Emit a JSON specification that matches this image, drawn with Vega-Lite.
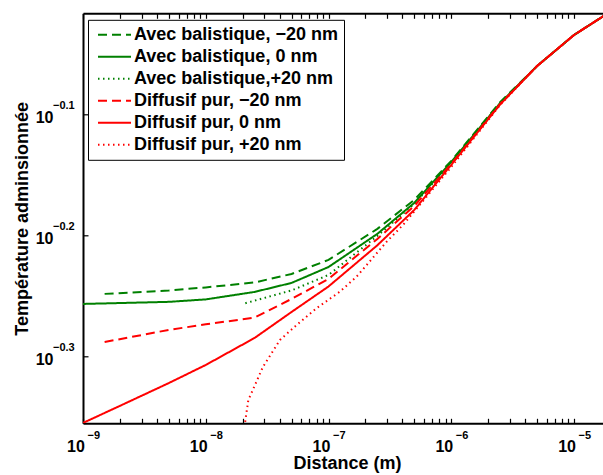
{
  "$schema": "https://vega.github.io/schema/vega-lite/v6.json",
  "width": 520,
  "height": 410,
  "autosize": {"type": "none"},
  "padding": {"left": 83, "top": 13.3, "right": 0, "bottom": 51.7},
  "background": "white",
  "config": {
    "view": {"stroke": null},
    "font": "Liberation Sans",
    "axis": {"grid": false}
  },
  "datasets": {
    "curves": [
      {"s": "Avec balistique, −20 nm", "x": 1.5e-9, "y": 0.5644},
      {"s": "Avec balistique, −20 nm", "x": 5e-9, "y": 0.5681},
      {"s": "Avec balistique, −20 nm", "x": 1e-8, "y": 0.5714},
      {"s": "Avec balistique, −20 nm", "x": 2.5e-8, "y": 0.5768},
      {"s": "Avec balistique, −20 nm", "x": 5e-8, "y": 0.5862},
      {"s": "Avec balistique, −20 nm", "x": 1e-7, "y": 0.6021},
      {"s": "Avec balistique, −20 nm", "x": 2.5e-7, "y": 0.6387},
      {"s": "Avec balistique, −20 nm", "x": 5e-7, "y": 0.675},
      {"s": "Avec balistique, −20 nm", "x": 1e-6, "y": 0.7268},
      {"s": "Avec balistique, −20 nm", "x": 2.5e-6, "y": 0.813},
      {"s": "Avec balistique, −20 nm", "x": 5e-6, "y": 0.8707},
      {"s": "Avec balistique, −20 nm", "x": 1e-5, "y": 0.9237},
      {"s": "Avec balistique, −20 nm", "x": 2e-5, "y": 0.9663},

      {"s": "Avec balistique, 0 nm", "x": 1e-9, "y": 0.5537},
      {"s": "Avec balistique, 0 nm", "x": 5e-9, "y": 0.5559},
      {"s": "Avec balistique, 0 nm", "x": 1e-8, "y": 0.5585},
      {"s": "Avec balistique, 0 nm", "x": 2.5e-8, "y": 0.5665},
      {"s": "Avec balistique, 0 nm", "x": 5e-8, "y": 0.5763},
      {"s": "Avec balistique, 0 nm", "x": 1e-7, "y": 0.594},
      {"s": "Avec balistique, 0 nm", "x": 2.5e-7, "y": 0.6327},
      {"s": "Avec balistique, 0 nm", "x": 5e-7, "y": 0.6711},
      {"s": "Avec balistique, 0 nm", "x": 1e-6, "y": 0.7255},
      {"s": "Avec balistique, 0 nm", "x": 2.5e-6, "y": 0.8113},
      {"s": "Avec balistique, 0 nm", "x": 5e-6, "y": 0.8707},
      {"s": "Avec balistique, 0 nm", "x": 1e-5, "y": 0.9237},
      {"s": "Avec balistique, 0 nm", "x": 2e-5, "y": 0.9663},

      {"s": "Avec balistique,+20 nm", "x": 2.1e-8, "y": 0.5545},
      {"s": "Avec balistique,+20 nm", "x": 2.5e-8, "y": 0.5572},
      {"s": "Avec balistique,+20 nm", "x": 5e-8, "y": 0.5681},
      {"s": "Avec balistique,+20 nm", "x": 1e-7, "y": 0.5851},
      {"s": "Avec balistique,+20 nm", "x": 2.5e-7, "y": 0.6302},
      {"s": "Avec balistique,+20 nm", "x": 5e-7, "y": 0.6698},
      {"s": "Avec balistique,+20 nm", "x": 1e-6, "y": 0.7242},
      {"s": "Avec balistique,+20 nm", "x": 2.5e-6, "y": 0.8106},
      {"s": "Avec balistique,+20 nm", "x": 5e-6, "y": 0.8707},
      {"s": "Avec balistique,+20 nm", "x": 1e-5, "y": 0.9237},
      {"s": "Avec balistique,+20 nm", "x": 2e-5, "y": 0.9663},

      {"s": "Diffusif pur, −20 nm", "x": 1.5e-9, "y": 0.515},
      {"s": "Diffusif pur, −20 nm", "x": 5e-9, "y": 0.527},
      {"s": "Diffusif pur, −20 nm", "x": 1e-8, "y": 0.5326},
      {"s": "Diffusif pur, −20 nm", "x": 2.5e-8, "y": 0.5395},
      {"s": "Diffusif pur, −20 nm", "x": 5e-8, "y": 0.559},
      {"s": "Diffusif pur, −20 nm", "x": 1e-7, "y": 0.5807},
      {"s": "Diffusif pur, −20 nm", "x": 2.5e-7, "y": 0.6266},
      {"s": "Diffusif pur, −20 nm", "x": 5e-7, "y": 0.6673},
      {"s": "Diffusif pur, −20 nm", "x": 1e-6, "y": 0.7228},
      {"s": "Diffusif pur, −20 nm", "x": 2.5e-6, "y": 0.8101},
      {"s": "Diffusif pur, −20 nm", "x": 5e-6, "y": 0.8707},
      {"s": "Diffusif pur, −20 nm", "x": 1e-5, "y": 0.9237},
      {"s": "Diffusif pur, −20 nm", "x": 2e-5, "y": 0.9663},

      {"s": "Diffusif pur, 0 nm", "x": 1e-9, "y": 0.4415},
      {"s": "Diffusif pur, 0 nm", "x": 2e-9, "y": 0.4561},
      {"s": "Diffusif pur, 0 nm", "x": 5e-9, "y": 0.4763},
      {"s": "Diffusif pur, 0 nm", "x": 1e-8, "y": 0.493},
      {"s": "Diffusif pur, 0 nm", "x": 2.5e-8, "y": 0.519},
      {"s": "Diffusif pur, 0 nm", "x": 5e-8, "y": 0.5453},
      {"s": "Diffusif pur, 0 nm", "x": 1e-7, "y": 0.5724},
      {"s": "Diffusif pur, 0 nm", "x": 2.5e-7, "y": 0.6191},
      {"s": "Diffusif pur, 0 nm", "x": 5e-7, "y": 0.6622},
      {"s": "Diffusif pur, 0 nm", "x": 1e-6, "y": 0.7215},
      {"s": "Diffusif pur, 0 nm", "x": 2.5e-6, "y": 0.8093},
      {"s": "Diffusif pur, 0 nm", "x": 5e-6, "y": 0.8707},
      {"s": "Diffusif pur, 0 nm", "x": 1e-5, "y": 0.9237},
      {"s": "Diffusif pur, 0 nm", "x": 2e-5, "y": 0.9663},

      {"s": "Diffusif pur, +20 nm", "x": 2.05e-8, "y": 0.43},
      {"s": "Diffusif pur, +20 nm", "x": 2.088e-8, "y": 0.4415},
      {"s": "Diffusif pur, +20 nm", "x": 2.221e-8, "y": 0.4611},
      {"s": "Diffusif pur, +20 nm", "x": 2.518e-8, "y": 0.4745},
      {"s": "Diffusif pur, +20 nm", "x": 2.926e-8, "y": 0.4913},
      {"s": "Diffusif pur, +20 nm", "x": 4.025e-8, "y": 0.517},
      {"s": "Diffusif pur, +20 nm", "x": 5.506e-8, "y": 0.5321},
      {"s": "Diffusif pur, +20 nm", "x": 8.013e-8, "y": 0.5493},
      {"s": "Diffusif pur, +20 nm", "x": 1.241e-7, "y": 0.5669},
      {"s": "Diffusif pur, +20 nm", "x": 1.697e-7, "y": 0.5833},
      {"s": "Diffusif pur, +20 nm", "x": 2.979e-7, "y": 0.6234},
      {"s": "Diffusif pur, +20 nm", "x": 4.045e-7, "y": 0.6435},
      {"s": "Diffusif pur, +20 nm", "x": 1e-6, "y": 0.7186},
      {"s": "Diffusif pur, +20 nm", "x": 2.5e-6, "y": 0.8085},
      {"s": "Diffusif pur, +20 nm", "x": 5e-6, "y": 0.8707},
      {"s": "Diffusif pur, +20 nm", "x": 1e-5, "y": 0.9237},
      {"s": "Diffusif pur, +20 nm", "x": 2e-5, "y": 0.9663}
    ],
    "xexp": [
      {"v": 1e-9, "e": "−9"},
      {"v": 1e-8, "e": "−8"},
      {"v": 1e-7, "e": "−7"},
      {"v": 1e-6, "e": "−6"},
      {"v": 1e-5, "e": "−5"}
    ],
    "yexp": [
      {"v": 0.794328, "e": "−0.1"},
      {"v": 0.630957, "e": "−0.2"},
      {"v": 0.501187, "e": "−0.3"}
    ]
  },
  "layer": [
    {
      "data": {"name": "curves"},
      "mark": {"type": "line", "clip": true},
      "encoding": {
        "x": {
          "field": "x", "type": "quantitative",
          "scale": {"type": "log", "domain": [1e-9, 1.722e-5], "nice": false},
          "axis": {
            "orient": "bottom",
            "values": [1e-9, 2e-9, 3e-9, 4e-9, 5e-9, 6e-9, 7e-9, 8e-9, 9e-9, 1e-8, 2e-8, 3e-8, 4e-8, 5e-8, 6e-8, 7e-8, 8e-8, 9e-8, 1e-7, 2e-7, 3e-7, 4e-7, 5e-7, 6e-7, 7e-7, 8e-7, 9e-7, 1e-6, 2e-6, 3e-6, 4e-6, 5e-6, 6e-6, 7e-6, 8e-6, 9e-6, 1e-5],
            "labelExpr": "abs(log(datum.value)/LN10 - round(log(datum.value)/LN10)) < 0.001 ? '10' : ''",
            "tickSize": -5, "tickColor": "black", "tickWidth": 1.2,
            "domainColor": "black", "domainWidth": 2,
            "labelPadding": 32.7, "labelBaseline": "alphabetic", "labelAlign": "center",
            "labelOffset": -7.5, "labelFlush": false, "labelOverlap": false, "labelBound": false,
            "labelFont": "Liberation Sans", "labelFontSize": 16, "labelFontWeight": "bold", "labelColor": "black",
            "title": "Distance (m)", "titleFont": "Liberation Sans", "titleFontSize": 18, "titleFontWeight": "bold",
            "titleColor": "black", "titleX": 264, "titleY": 45, "titleBaseline": "alphabetic", "titleAlign": "center"
          }
        },
        "y": {
          "field": "y", "type": "quantitative",
          "scale": {"type": "log", "domain": [0.4412, 0.9626], "nice": false},
          "axis": {
            "values": [0.501187, 0.630957, 0.794328],
            "labelExpr": "'10'",
            "tickSize": -5, "tickColor": "black", "tickWidth": 1.2,
            "domainColor": "black", "domainWidth": 2,
            "labelPadding": 35, "labelAlign": "right", "labelBaseline": "alphabetic", "labelOffset": 8.4,
            "labelFont": "Liberation Sans", "labelFontSize": 16, "labelFontWeight": "bold", "labelColor": "black",
            "labelOverlap": false, "labelBound": false, "labelFlush": false,
            "title": "Température adminsionnée", "titleFont": "Liberation Sans", "titleFontSize": 18, "titleFontWeight": "bold",
            "titleColor": "black", "titleX": -56, "titleY": 205, "titleBaseline": "alphabetic", "titleAlign": "center", "titleAngle": -90
          }
        },
        "color": {
          "field": "s", "type": "nominal",
          "scale": {
            "domain": ["Avec balistique, −20 nm", "Avec balistique, 0 nm", "Avec balistique,+20 nm", "Diffusif pur, −20 nm", "Diffusif pur, 0 nm", "Diffusif pur, +20 nm"],
            "range": ["#008000", "#008000", "#008000", "#ff0000", "#ff0000", "#ff0000"]
          },
          "legend": {
            "title": null, "orient": "none", "legendX": 5, "legendY": 6.5,
            "strokeColor": "black", "fillColor": "white", "padding": 6,
            "labelFont": "Liberation Sans", "labelFontSize": 18, "labelFontWeight": "bold", "labelColor": "black",
            "symbolType": "M-1,0H5.6", "symbolSize": 100, "symbolStrokeWidth": 2,
            "rowPadding": 4, "labelOffset": 22, "labelLimit": 400
          }
        },
        "strokeDash": {
          "field": "s", "type": "nominal",
          "scale": {
            "domain": ["Avec balistique, −20 nm", "Avec balistique, 0 nm", "Avec balistique,+20 nm", "Diffusif pur, −20 nm", "Diffusif pur, 0 nm", "Diffusif pur, +20 nm"],
            "range": [[9, 5], [1, 0], [1.5, 3.5], [9, 5], [1, 0], [1.5, 3.5]]
          },
          "legend": {
            "title": null, "orient": "none", "legendX": 5, "legendY": 6.5,
            "strokeColor": "black", "fillColor": "white", "padding": 6,
            "labelFont": "Liberation Sans", "labelFontSize": 18, "labelFontWeight": "bold", "labelColor": "black",
            "symbolType": "M-1,0H5.6", "symbolSize": 100, "symbolStrokeWidth": 2,
            "rowPadding": 4, "labelOffset": 22, "labelLimit": 400
          }
        },
        "strokeWidth": {
          "field": "s", "type": "nominal",
          "scale": {
            "domain": ["Avec balistique, −20 nm", "Avec balistique, 0 nm", "Avec balistique,+20 nm", "Diffusif pur, −20 nm", "Diffusif pur, 0 nm", "Diffusif pur, +20 nm"],
            "range": [2, 2, 1.3, 2, 2, 1.3]
          },
          "legend": null
        }
      }
    },
    {
      "data": {"name": "xexp"},
      "mark": {"type": "text", "align": "left", "baseline": "alphabetic", "dx": 4.5, "dy": 16, "font": "Liberation Sans", "fontWeight": "bold", "fontSize": 11, "color": "black"},
      "encoding": {
        "x": {
          "field": "v", "type": "quantitative",
          "scale": {"type": "log", "domain": [1e-9, 1.722e-5], "nice": false},
          "axis": {
            "orient": "top",
            "values": [1e-9, 2e-9, 3e-9, 4e-9, 5e-9, 6e-9, 7e-9, 8e-9, 9e-9, 1e-8, 2e-8, 3e-8, 4e-8, 5e-8, 6e-8, 7e-8, 8e-8, 9e-8, 1e-7, 2e-7, 3e-7, 4e-7, 5e-7, 6e-7, 7e-7, 8e-7, 9e-7, 1e-6, 2e-6, 3e-6, 4e-6, 5e-6, 6e-6, 7e-6, 8e-6, 9e-6, 1e-5],
            "labels": false, "tickSize": -5, "tickColor": "black", "tickWidth": 1.2,
            "domainColor": "black", "domainWidth": 2, "title": null
          }
        },
        "y": {"datum": 0.4412, "type": "quantitative", "scale": {"type": "log", "domain": [0.4412, 0.9626], "nice": false}},
        "text": {"field": "e", "type": "nominal"}
      }
    },
    {
      "data": {"name": "yexp"},
      "mark": {"type": "text", "align": "left", "baseline": "alphabetic", "dx": -30, "dy": -5, "font": "Liberation Sans", "fontWeight": "bold", "fontSize": 11, "color": "black"},
      "encoding": {
        "x": {"datum": 1e-9, "type": "quantitative", "scale": {"type": "log", "domain": [1e-9, 1.722e-5], "nice": false}, "axis": null},
        "y": {"field": "v", "type": "quantitative", "scale": {"type": "log", "domain": [0.4412, 0.9626], "nice": false}},
        "text": {"field": "e", "type": "nominal"}
      }
    }
  ],
  "resolve": {"axis": {"x": "independent"}}
}
